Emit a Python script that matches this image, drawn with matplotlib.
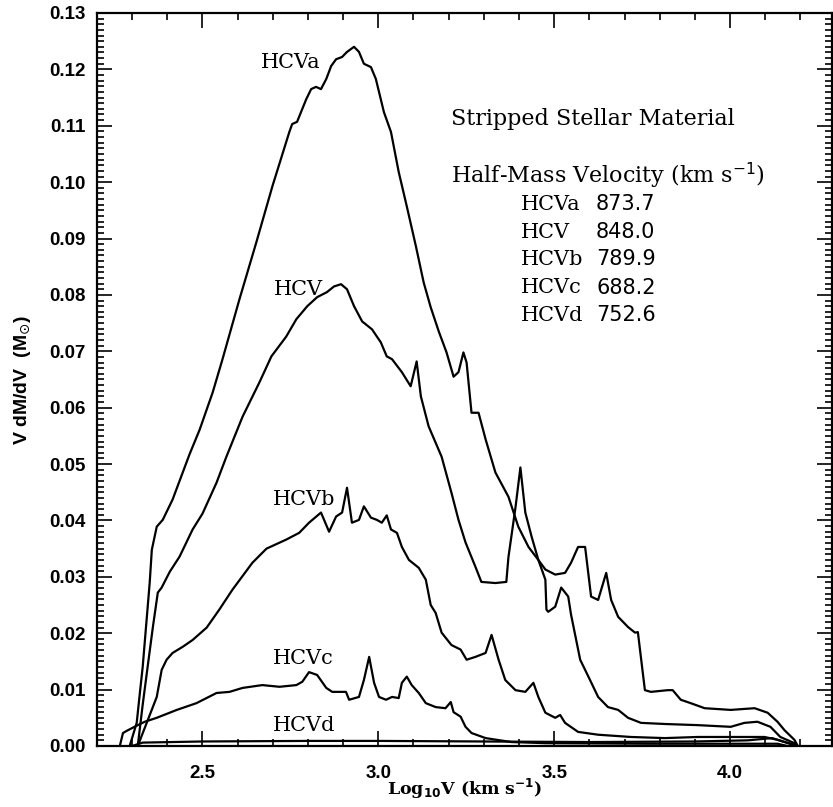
import numpy as np
import matplotlib
matplotlib.use('Agg')
import matplotlib.pyplot as plt
from matplotlib.ticker import MultipleLocator, FormatStrFormatter

# curvas: log10 V (km/s) e V dM/dV (Msol)
hcva_x = [2.293, 2.313, 2.322, 2.330, 2.350, 2.356, 2.370, 2.387, 2.415, 2.463, 2.492, 2.529, 2.557,
          2.605, 2.653, 2.699, 2.747, 2.755, 2.769, 2.795, 2.809, 2.823, 2.837, 2.852, 2.866, 2.880,
          2.897, 2.911, 2.931, 2.945, 2.959, 2.979, 2.993, 3.016, 3.036, 3.058, 3.081, 3.107, 3.129,
          3.149, 3.172, 3.194, 3.214, 3.228, 3.242, 3.251, 3.265, 3.285, 3.305, 3.333, 3.370, 3.398,
          3.427, 3.455, 3.475, 3.503, 3.531, 3.548, 3.568, 3.588, 3.605, 3.625, 3.648, 3.662, 3.682,
          3.710, 3.730, 3.738, 3.758, 3.775, 3.823, 3.837, 3.860, 3.888, 3.928, 4.002, 4.070, 4.107,
          4.135, 4.155, 4.183, 4.191]
hcva_y = [0.0, 0.0041, 0.0094, 0.0140, 0.0290, 0.0348, 0.0389, 0.0401, 0.0437, 0.0517, 0.0561, 0.0627,
          0.0686, 0.0792, 0.0893, 0.0993, 0.1089, 0.1103, 0.1107, 0.1147, 0.1165, 0.1169, 0.1165,
          0.1183, 0.1206, 0.1218, 0.1222, 0.1231, 0.1240, 0.1231, 0.1210, 0.1204, 0.1183, 0.1124,
          0.1089, 0.1018, 0.0957, 0.0886, 0.0822, 0.0778, 0.0735, 0.0698, 0.0655, 0.0663, 0.0698,
          0.0680, 0.0591, 0.0591, 0.0544, 0.0485, 0.0442, 0.0389, 0.0353, 0.0330, 0.0313, 0.0304,
          0.0307, 0.0325, 0.0353, 0.0353, 0.0265, 0.0259, 0.0307, 0.0259, 0.0229, 0.0211, 0.0201,
          0.0202, 0.0099, 0.0096, 0.0099, 0.0099, 0.0082, 0.0076, 0.0067, 0.0064, 0.0067, 0.0059,
          0.0043, 0.0028, 0.0011, 0.0002]

hcv_x = [2.316, 2.330, 2.344, 2.359, 2.373, 2.384, 2.407, 2.435, 2.472, 2.500, 2.540, 2.568, 2.614,
         2.662, 2.696, 2.738, 2.767, 2.798, 2.826, 2.854, 2.874, 2.894, 2.911, 2.931, 2.954, 2.982,
         3.007, 3.024, 3.039, 3.067, 3.092, 3.109, 3.121, 3.143, 3.180, 3.208, 3.228, 3.248, 3.276,
         3.293, 3.333, 3.364, 3.370, 3.390, 3.404, 3.418, 3.436, 3.455, 3.475, 3.478, 3.483, 3.503,
         3.520, 3.540, 3.548, 3.574, 3.602, 3.625, 3.653, 3.682, 3.710, 3.747, 3.815, 3.908, 4.002,
         4.041, 4.078, 4.115, 4.143, 4.183, 4.191]
hcv_y = [0.0, 0.0073, 0.0140, 0.0211, 0.0272, 0.0281, 0.0309, 0.0336, 0.0384, 0.0412, 0.0467, 0.0513,
         0.0584, 0.0645, 0.0691, 0.0726, 0.0757, 0.0780, 0.0796, 0.0805, 0.0815, 0.0819, 0.0810,
         0.0780, 0.0753, 0.0739, 0.0716, 0.0691, 0.0686, 0.0663, 0.0638, 0.0682, 0.0620, 0.0567,
         0.0513, 0.0449, 0.0401, 0.0361, 0.0318, 0.0291, 0.0289, 0.0291, 0.0335, 0.0423, 0.0494,
         0.0414, 0.0371, 0.0330, 0.0295, 0.0242, 0.0238, 0.0247, 0.0281, 0.0265, 0.0233, 0.0153,
         0.0117, 0.0087, 0.0069, 0.0064, 0.0050, 0.0041, 0.0039, 0.0037, 0.0034, 0.0041, 0.0043,
         0.0034, 0.0016, 0.0005, 0.0]

hcvb_x = [2.316, 2.370, 2.384, 2.398, 2.415, 2.444, 2.472, 2.512, 2.548, 2.585, 2.642, 2.682, 2.738,
          2.775, 2.803, 2.837, 2.860, 2.880, 2.897, 2.911, 2.925, 2.945, 2.959, 2.979, 2.996, 3.010,
          3.024, 3.036, 3.053, 3.067, 3.087, 3.115, 3.135, 3.149, 3.163, 3.180, 3.208, 3.234, 3.251,
          3.276, 3.305, 3.322, 3.342, 3.361, 3.390, 3.418, 3.441, 3.455, 3.475, 3.503, 3.517, 3.531,
          3.568, 3.625, 3.718, 3.815, 3.908, 4.098, 4.135, 4.183]
hcvb_y = [0.0, 0.0087, 0.0135, 0.0153, 0.0165, 0.0176, 0.0188, 0.0210, 0.0242, 0.0277, 0.0325, 0.0350,
          0.0366, 0.0378, 0.0396, 0.0414, 0.0380, 0.0407, 0.0414, 0.0458, 0.0396, 0.0401, 0.0425,
          0.0405, 0.0401, 0.0396, 0.0409, 0.0384, 0.0378, 0.0353, 0.0330, 0.0316, 0.0295, 0.0250,
          0.0236, 0.0201, 0.0179, 0.0171, 0.0153, 0.0158, 0.0165, 0.0197, 0.0153, 0.0117, 0.0099,
          0.0096, 0.0112, 0.0087, 0.0059, 0.0050, 0.0055, 0.0041, 0.0025, 0.0020, 0.0016, 0.0014,
          0.0016, 0.0016, 0.0011, 0.0002]

hcvc_x = [2.265, 2.274, 2.285, 2.313, 2.336, 2.370, 2.427, 2.483, 2.540, 2.577, 2.614, 2.670, 2.719,
          2.767, 2.784, 2.803, 2.826, 2.852, 2.869, 2.908, 2.917, 2.945, 2.959, 2.974, 2.988, 3.002,
          3.022, 3.039, 3.058, 3.067, 3.081, 3.095, 3.115, 3.135, 3.163, 3.191, 3.206, 3.214, 3.234,
          3.248, 3.265, 3.305, 3.378, 3.475, 3.767, 4.135, 4.163]
hcvc_y = [0.0, 0.0023, 0.0027, 0.0036, 0.0043, 0.0050, 0.0064, 0.0076, 0.0094, 0.0096, 0.0103, 0.0108,
          0.0105, 0.0108, 0.0114, 0.0131, 0.0126, 0.0103, 0.0096, 0.0096, 0.0082, 0.0087, 0.0117,
          0.0158, 0.0112, 0.0087, 0.0082, 0.0087, 0.0085, 0.0112, 0.0123, 0.0108, 0.0094, 0.0076,
          0.0069, 0.0067, 0.0078, 0.0060, 0.0052, 0.0034, 0.0023, 0.0014, 0.0007, 0.0005, 0.0004,
          0.0004, 0.0]

hcvd_x = [2.300, 2.330, 2.500, 2.800, 3.000, 3.300, 3.600, 3.900, 4.050, 4.120, 4.150, 4.190]
hcvd_y = [0.0, 0.0006, 0.0008, 0.0009, 0.0009, 0.0008, 0.0007, 0.0008, 0.0010, 0.0014, 0.0008, 0.0]

curvas = [(hcva_x, hcva_y), (hcv_x, hcv_y), (hcvb_x, hcvb_y), (hcvc_x, hcvc_y), (hcvd_x, hcvd_y)]

# rotulos das curvas (texto, x, y)
rotulos = [('HCVa', 2.667, 0.1213), ('HCV', 2.704, 0.0810), ('HCVb', 2.699, 0.0437),
           ('HCVc', 2.699, 0.0156), ('HCVd', 2.699, 0.0037)]

modelos = ['HCVa', 'HCV', 'HCVb', 'HCVc', 'HCVd']
vel_meia_massa = ['873.7', '848.0', '789.9', '688.2', '752.6']

serif = 'DejaVu Serif'
sans = 'Liberation Sans'

fig = plt.figure(figsize=(8.33, 8.07), dpi=100)
ax = fig.add_axes([0.1164, 0.0756, 0.8824, 0.9083])

for x, y in curvas:
    ax.plot(x, y, color='black', lw=1.6)

ax.set_xlim(2.2, 4.29)
ax.set_ylim(0.0, 0.13)

ax.xaxis.set_major_locator(MultipleLocator(0.5))
ax.xaxis.set_minor_locator(MultipleLocator(0.1))
ax.yaxis.set_major_locator(MultipleLocator(0.01))
ax.yaxis.set_minor_locator(MultipleLocator(0.001))
ax.xaxis.set_major_formatter(FormatStrFormatter('%.1f'))
ax.yaxis.set_major_formatter(FormatStrFormatter('%.2f'))
ax.tick_params(which='both', direction='in', top=True, right=True, width=1.2)
ax.tick_params(which='major', length=11, pad=8)
ax.tick_params(axis='x', which='major', pad=14)
ax.tick_params(which='minor', length=5)
for s in ax.spines.values():
    s.set_linewidth(1.6)

for lab in ax.get_xticklabels() + ax.get_yticklabels():
    lab.set_fontfamily(sans)
    lab.set_fontweight('bold')
    lab.set_fontsize(13.5)

ax.set_xlabel(r'Log$_{\mathbf{10}}$V (km s$^{\mathbf{-1}}$)', fontfamily=serif, fontweight='bold',
              fontsize=12.5, labelpad=-4)
ax.set_ylabel(r'V dM/dV  (M$_{\odot}$)', fontfamily=sans, fontweight='bold', fontsize=14, labelpad=12)

for texto, x, y in rotulos:
    ax.text(x, y, texto, fontfamily=serif, fontsize=15, va='center', ha='left')

ax.text(3.206, 0.1112, 'Stripped Stellar Material', fontfamily=serif, fontsize=16, va='center')
ax.text(3.206, 0.1011, r'Half-Mass Velocity (km s$^{-1}$)', fontfamily=serif, fontsize=16, va='center')
ypos = [0.0961, 0.0911, 0.0863, 0.0813, 0.0764]
for nome, v, y in zip(modelos, vel_meia_massa, ypos):
    ax.text(3.404, y, nome, fontfamily=serif, fontsize=15, va='center')
    ax.text(3.619, y, v, fontfamily='DejaVu Sans', fontsize=15, va='center')

fig.savefig('out.png', dpi=100)
